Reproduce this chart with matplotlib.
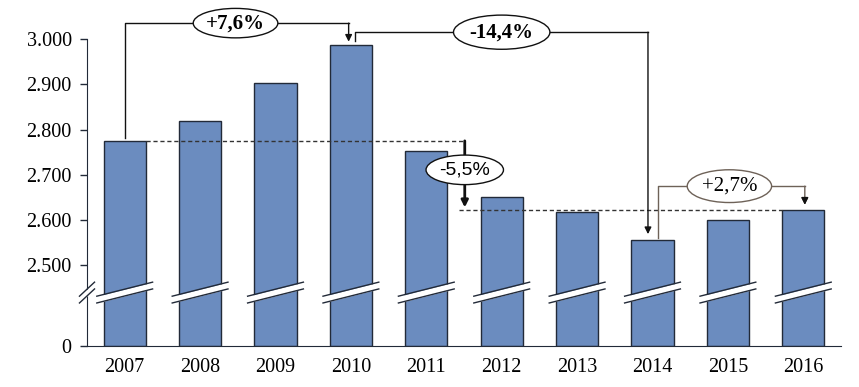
import numpy as np
import matplotlib
matplotlib.use("Agg")
import matplotlib.pyplot as plt

# data
years = ["2007", "2008", "2009", "2010", "2011", "2012", "2013", "2014", "2015", "2016"]
values = [2775, 2819, 2903, 2987, 2753, 2650, 2617, 2555, 2601, 2623]
tick_values = [0, 2500, 2600, 2700, 2800, 2900, 3000]
tick_labels = ["0", "2.500", "2.600", "2.700", "2.800", "2.900", "3.000"]
change_labels = ["+7,6%", "-14,4%", "-5,5%", "+2,7%"]

# broken axis: everything above the break is shifted down
SHIFT = 2500 - 178
def d(v):
    return v - SHIFT if v > 0 else 0

plt.rcParams['font.family'] = ['Liberation Serif', 'DejaVu Serif']

fig = plt.figure(figsize=(8.59, 3.87), dpi=100)
ax = fig.add_axes([87/859, 41/387, (841-87)/859, 336/387])

x = np.arange(len(years))
bar_color = '#6b8cbf'
edge = '#222a38'
ax.bar(x, [d(v) for v in values], width=0.56, color=bar_color, edgecolor=edge,
       linewidth=1, zorder=2)

ax.set_xlim(-0.5, 9.5)
ax.set_ylim(0, 742)
ax.set_yticks([d(v) for v in tick_values])
ax.set_yticklabels(tick_labels)
ax.set_xticks(x)
ax.set_xticklabels(years)
ax.tick_params(axis='y', length=5, width=1, pad=6, labelsize=14.5, color=edge)
ax.tick_params(axis='x', length=0, pad=9, labelsize=14.5)
for s in ['top', 'right']:
    ax.spines[s].set_visible(False)
ax.spines['left'].set_bounds(0, d(3000))
ax.spines['left'].set_color(edge)
ax.spines['bottom'].set_color(edge)

# break slashes on the bars and on the axis
def slash(xc, hw, zorder=3):
    yc = 118
    rise = 31
    th = 15
    xs = [xc - hw, xc + hw]
    lo = [yc - th/2 - rise/2, yc - th/2 + rise/2]
    hi = [yc + th/2 - rise/2, yc + th/2 + rise/2]
    ax.fill_between(xs, lo, hi, color='white', zorder=zorder, clip_on=False, lw=0)
    ax.plot(xs, lo, color=edge, lw=1, zorder=zorder+0.1, clip_on=False)
    ax.plot(xs, hi, color=edge, lw=1, zorder=zorder+0.1, clip_on=False)

for xi in x:
    slash(xi, 0.37)
slash(-0.5, 0.1)

line_c = '#111111'
arrow_kw = dict(arrowstyle='-|>', color=line_c, lw=1, mutation_scale=10,
                shrinkA=0, shrinkB=0)

def bracket(pts, color, lw=1):
    xs = [p[0] for p in pts]
    ys = [d(p[1]) for p in pts]
    ax.plot(xs[:-1], ys[:-1], color=color, lw=lw, zorder=4, clip_on=False)
    kw = dict(arrow_kw)
    kw['color'] = color
    kw['lw'] = lw
    ax.annotate('', xy=(xs[-1], ys[-1]), xytext=(xs[-2], ys[-2]),
                arrowprops=kw, zorder=4, annotation_clip=False)

def label(xc, v, txt, weight='normal', family=None, size=13, ec=line_c, pad=0.08):
    kw = {}
    if family:
        kw['family'] = family
    ax.text(xc, d(v), txt, ha='center', va='center', fontsize=size,
            fontweight=weight, zorder=6,
            bbox=dict(boxstyle='ellipse,pad=%.2f' % pad, fc='white', ec=ec, lw=1), **kw)

# +7,6%
bracket([(0, 2782), (0, 3035), (2.97, 3035), (2.97, 2994)], line_c)
label(1.47, 3035, change_labels[0], weight='bold', size=15, pad=0.02)

# -14,4%
bracket([(3.06, 2996), (3.06, 3015), (6.94, 3015), (6.94, 2569)], line_c)
label(5.0, 3015, change_labels[1], weight='bold', size=15, pad=0.1)

# -5,5%
ax.plot([0.28, 4.51], [d(values[0]), d(values[0])], ls=(0, (3, 2)), color='#333333',
        lw=1, zorder=3)
ax.plot([4.44, 8.72], [d(values[-1]), d(values[-1])], ls=(0, (3, 2)), color='#333333',
        lw=1, zorder=3)
bracket([(4.51, 2775), (4.51, 2628)], line_c, lw=2)
label(4.51, 2711, change_labels[2], family=['Liberation Sans', 'DejaVu Sans'], size=14, pad=0.1)

# +2,7%
brown = '#6e6258'
bracket([(7.07, 2560), (7.07, 2675), (9.02, 2675), (9.02, 2634)], brown)
ax.annotate('', xy=(9.02, d(2634)), xytext=(9.02, d(2650)),
            arrowprops=dict(arrow_kw), zorder=4)
label(8.02, 2675, change_labels[3], size=15, ec=brown, pad=0.1)

fig.savefig("out.png", dpi=100)
